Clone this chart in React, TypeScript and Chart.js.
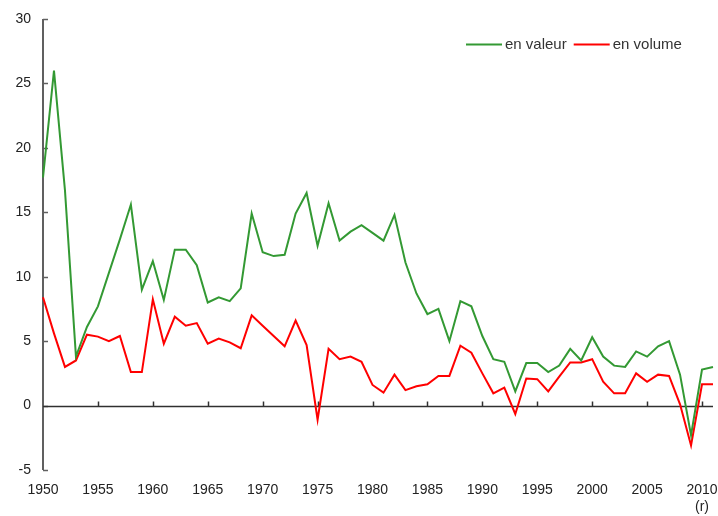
import { useEffect, useRef } from 'react';
import { Chart, registerables } from 'chart.js';

Chart.register(...registerables);

const years = [
  '1950', '1951', '1952', '1953', '1954', '1955', '1956', '1957', '1958', '1959',
  '1960', '1961', '1962', '1963', '1964', '1965', '1966', '1967', '1968', '1969',
  '1970', '1971', '1972', '1973', '1974', '1975', '1976', '1977', '1978', '1979',
  '1980', '1981', '1982', '1983', '1984', '1985', '1986', '1987', '1988', '1989',
  '1990', '1991', '1992', '1993', '1994', '1995', '1996', '1997', '1998', '1999',
  '2000', '2001', '2002', '2003', '2004', '2005', '2006', '2007', '2008', '2009',
  '2010', '2011',
];

const enValeur = [
  17.7, 26.0, 16.7, 3.8, 6.1, 7.7, 10.3, 12.9, 15.6, 9.0,
  11.2, 8.2, 12.1, 12.1, 10.9, 8.0, 8.4, 8.1, 9.1, 14.9,
  11.9, 11.6, 11.7, 14.9, 16.5, 12.4, 15.7, 12.8, 13.5, 14.0,
  13.4, 12.8, 14.8, 11.1, 8.7, 7.1, 7.5, 5.0, 8.1, 7.7,
  5.4, 3.6, 3.4, 1.1, 3.3, 3.3, 2.6, 3.1, 4.4, 3.5,
  5.3, 3.8, 3.1, 3.0, 4.2, 3.8, 4.6, 5.0, 2.4, -2.3,
  2.8, 3.0,
];

const enVolume = [
  8.4, 5.6, 3.0, 3.5, 5.5, 5.35, 5.0, 5.4, 2.6, 2.6,
  8.25, 4.8, 6.9, 6.2, 6.4, 4.8, 5.2, 4.9, 4.45, 7.0,
  6.2, 5.4, 4.6, 6.6, 4.7, -1.1, 4.4, 3.6, 3.8, 3.4,
  1.6, 1.0, 2.4, 1.2, 1.5, 1.65, 2.3, 2.3, 4.65, 4.1,
  2.5, 0.95, 1.4, -0.65, 2.1, 2.05, 1.1, 2.25, 3.35, 3.35,
  3.6, 1.85, 0.95, 0.95, 2.5, 1.85, 2.4, 2.3, 0.1, -3.1,
  1.65, 1.65,
];

const seriesLabels = ['en valeur', 'en volume'];
const seriesColors = ['#339933', '#ff0000'];
const yMin = -5;
const yMax = 30;
const yStep = 5;
const xTickEvery = 5;
const revisedYear = '2010';
const revisedNote = '(r)';

const FONT = '"Liberation Sans", Arial, sans-serif';

const customAxes = {
  id: 'customAxes',
  beforeDatasetsDraw(chart: any) {
    const { ctx, scales } = chart;
    const xs = scales.x;
    const ys = scales.y;
    const left = chart.chartArea.left;
    ctx.save();
    ctx.strokeStyle = '#606060';
    ctx.lineWidth = 2;
    ctx.beginPath();
    ctx.moveTo(left, ys.getPixelForValue(yMax));
    ctx.lineTo(left, ys.getPixelForValue(yMin));
    ctx.stroke();
    ctx.lineWidth = 1.5;
    for (let v = yMin; v <= yMax; v += yStep) {
      const py = Math.round(ys.getPixelForValue(v)) + 0.5;
      ctx.beginPath();
      ctx.moveTo(left, py);
      ctx.lineTo(left + 5, py);
      ctx.stroke();
    }
    const y0 = Math.round(ys.getPixelForValue(0)) + 0.5;
    ctx.strokeStyle = '#303030';
    ctx.lineWidth = 1.5;
    ctx.beginPath();
    ctx.moveTo(left, y0);
    ctx.lineTo(xs.getPixelForValue(years.length - 1), y0);
    ctx.stroke();
    years.forEach((yr, i) => {
      if (i === 0 || Number(yr) % xTickEvery !== 0) return;
      const px = Math.round(xs.getPixelForValue(i)) + 0.5;
      ctx.beginPath();
      ctx.moveTo(px, y0);
      ctx.lineTo(px, y0 - 5);
      ctx.stroke();
    });
    ctx.restore();
  },
  afterDraw(chart: any) {
    const { ctx } = chart;
    ctx.save();
    ctx.font = `15px ${FONT}`;
    ctx.textBaseline = 'middle';
    ctx.textAlign = 'left';
    const ly = 44;
    let x = 466;
    chart.data.datasets.forEach((ds: any) => {
      ctx.strokeStyle = ds.borderColor;
      ctx.lineWidth = 2;
      ctx.beginPath();
      ctx.moveTo(x, ly + 0.5);
      ctx.lineTo(x + 36, ly + 0.5);
      ctx.stroke();
      x += 39;
      ctx.fillStyle = '#333333';
      ctx.fillText(ds.label, x, ly + 1);
      x += ctx.measureText(ds.label).width + 7;
    });
    ctx.restore();
  },
};

export default function App() {
  const ref = useRef<HTMLCanvasElement>(null);
  useEffect(() => {
    if (!ref.current) return;
    const chart = new Chart(ref.current, {
      type: 'line',
      data: {
        labels: years,
        datasets: [
          {
            label: seriesLabels[0],
            data: enValeur,
            borderColor: seriesColors[0],
            backgroundColor: seriesColors[0],
            borderWidth: 2,
            pointRadius: 0,
            tension: 0,
          },
          {
            label: seriesLabels[1],
            data: enVolume,
            borderColor: seriesColors[1],
            backgroundColor: seriesColors[1],
            borderWidth: 2,
            pointRadius: 0,
            tension: 0,
          },
        ],
      },
      options: {
        animation: false,
        responsive: true,
        maintainAspectRatio: false,
        layout: { padding: { top: 19, right: 5, bottom: 0, left: 0 } },
        plugins: {
          legend: { display: false },
          tooltip: { enabled: false },
        },
        scales: {
          x: {
            type: 'category',
            offset: false,
            grid: { display: false },
            border: { display: false },
            afterFit: (s: any) => { s.height = 46; },
            ticks: {
              autoSkip: false,
              maxRotation: 0,
              padding: 4,
              color: '#222222',
              font: { family: FONT, size: 14 },
              callback: (_v: any, i: number) => {
                const yr = years[i];
                if (Number(yr) % xTickEvery !== 0) return '';
                return yr === revisedYear ? [yr, revisedNote] : yr;
              },
            },
          },
          y: {
            min: yMin,
            max: yMax,
            grid: { display: false },
            border: { display: false },
            afterFit: (s: any) => { s.width = 43; },
            ticks: {
              stepSize: yStep,
              padding: 4,
              color: '#222222',
              font: { family: FONT, size: 14 },
            },
          },
        },
      },
      plugins: [customAxes],
    });
    return () => chart.destroy();
  }, []);
  return (
    <div style={{ position: 'absolute', left: 0, top: 0, width: 718, height: 516 }}>
      <canvas ref={ref} />
    </div>
  );
}
